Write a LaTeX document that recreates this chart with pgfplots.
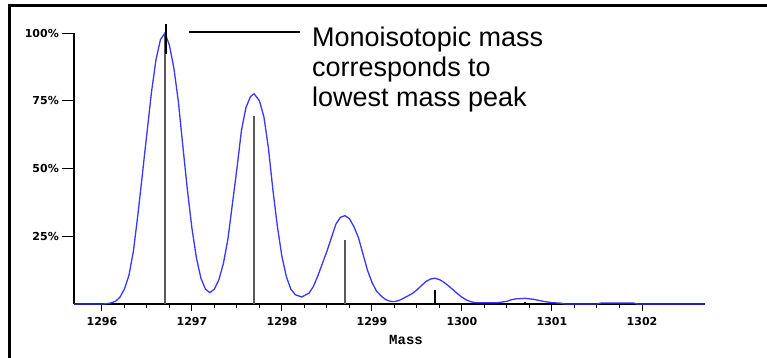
\documentclass[border=0pt]{standalone}
\usepackage{fontspec}
\usepackage{pgfplots}
\pgfplotsset{compat=1.18}
\setmainfont{Liberation Sans}
\newfontfamily\tickfont{DejaVu Sans}
\newfontfamily\massfont{Liberation Mono}
\definecolor{curveblue}{RGB}{55,55,255}
\definecolor{stickgray}{RGB}{90,90,90}
\pgfplotsset{
  commonframe/.style={
    at={(74pt,53pt)}, anchor=south west,
    scale only axis, width=631pt, height=271pt,
    xmin=1295.69, xmax=1302.70, ymin=0, ymax=100,
    clip=false,
  }
}
\begin{document}
\begin{tikzpicture}[x=1pt,y=1pt]
\useasboundingbox (0,0) rectangle (767,357);
% outer frame (left and top)
\draw[line width=2.8pt] (9.7,-2) -- (9.7,351.7) -- (770,351.7);
\begin{axis}[
  commonframe,
  axis lines*=left,
  axis line style={line width=1.2pt},
  tick align=outside,
  xtick={1296,1297,1298,1299,1300,1301,1302},
  minor x tick num=3,
  ytick={25,50,75,100},
  yticklabels={25\%,50\%,75\%,100\%},
  major tick length=7pt,
  minor tick length=3.5pt,
  every major y tick/.append style={/pgfplots/major tick length=12pt},
  tick style={line width=1pt,black},
  /pgf/number format/1000 sep={},
  /pgf/number format/assume math mode=true,
  ticklabel style={font=\tickfont\bfseries\fontsize{11}{13}\selectfont},
  xticklabel style={inner sep=0pt, anchor=north, yshift=-6pt},
  yticklabel style={inner sep=0pt, anchor=east, xshift=-8pt},
]
% centroid sticks
\addplot[ycomb, color=stickgray, line width=1.3pt, mark=none] coordinates {
(1296.70,100) (1297.69,69.3) (1298.70,23.6)
};
\addplot[ycomb, color=black, line width=1.6pt, mark=none] coordinates {
(1299.70,5.2) (1300.70,0.9)
};
\end{axis}
\begin{axis}[commonframe, axis lines=none]
% profile curve, drawn over the axis line
\addplot[color=curveblue, line width=1.3pt] coordinates {
(1295.69,0) (1296.00,0) (1296.05,0.1) (1296.10,0.4) (1296.15,1.0) (1296.20,2.5)
(1296.25,5.5) (1296.30,10.5) (1296.35,19.5) (1296.40,33) (1296.45,48) (1296.50,63)
(1296.55,78) (1296.60,90) (1296.65,97.5) (1296.70,100) (1296.75,95.5) (1296.80,87)
(1296.85,74.5) (1296.90,58) (1296.95,42) (1297.00,28) (1297.05,17) (1297.10,9.5)
(1297.15,5.5) (1297.20,4.2) (1297.25,5.5) (1297.30,9) (1297.35,15) (1297.40,24)
(1297.45,37) (1297.50,50) (1297.55,64) (1297.60,72.5) (1297.65,76.5) (1297.69,77.6)
(1297.75,75) (1297.80,69) (1297.85,57.5) (1297.90,42) (1297.95,28.5) (1298.00,17.5)
(1298.05,10) (1298.10,5.4) (1298.15,3.4) (1298.22,2.6) (1298.30,4) (1298.35,6.5)
(1298.40,10.5) (1298.45,15) (1298.50,19.5) (1298.55,24.5) (1298.60,29.5) (1298.65,32)
(1298.70,32.6) (1298.75,31.5) (1298.80,28.5) (1298.85,24.5) (1298.90,18.5) (1298.95,12.5)
(1299.00,8) (1299.05,4.8) (1299.10,3) (1299.15,1.7) (1299.20,1.0) (1299.25,0.9)
(1299.30,1.3) (1299.35,2.1) (1299.40,3) (1299.45,3.9) (1299.50,5.2) (1299.55,6.8)
(1299.60,8.3) (1299.65,9.2) (1299.70,9.5) (1299.75,9.0) (1299.80,8.0) (1299.85,6.7)
(1299.90,5.3) (1299.95,3.8) (1300.00,2.5) (1300.05,1.5) (1300.10,0.8) (1300.15,0.5)
(1300.40,0.5) (1300.50,1.0) (1300.55,1.6) (1300.60,1.9) (1300.70,2.1) (1300.80,1.7)
(1300.90,1.0) (1301.00,0.5) (1301.10,0.3) (1301.15,0) (1301.50,0) (1301.55,0.4)
(1301.90,0.4) (1301.95,0) (1302.70,0)
};
% annotation pointer
\draw[line width=2.3pt, black] (axis cs:1296.712,103.3) -- (axis cs:1296.712,92.2);
\draw[line width=1.7pt, black] (axis cs:1296.968,100.4) -- (axis cs:1298.201,100.4);
\end{axis}
\node[anchor=base west, inner sep=0pt, font=\fontsize{27}{29.5}\selectfont] at (312,310) {Monoisotopic mass};
\node[anchor=base west, inner sep=0pt, font=\fontsize{27}{29.5}\selectfont] at (312,280.5) {corresponds to};
\node[anchor=base west, inner sep=0pt, font=\fontsize{27}{29.5}\selectfont] at (312,251) {lowest mass peak};
\node[inner sep=0pt, font=\massfont\bfseries\fontsize{14}{16}\selectfont] at (406,17) {Mass};
\end{tikzpicture}
\end{document}
